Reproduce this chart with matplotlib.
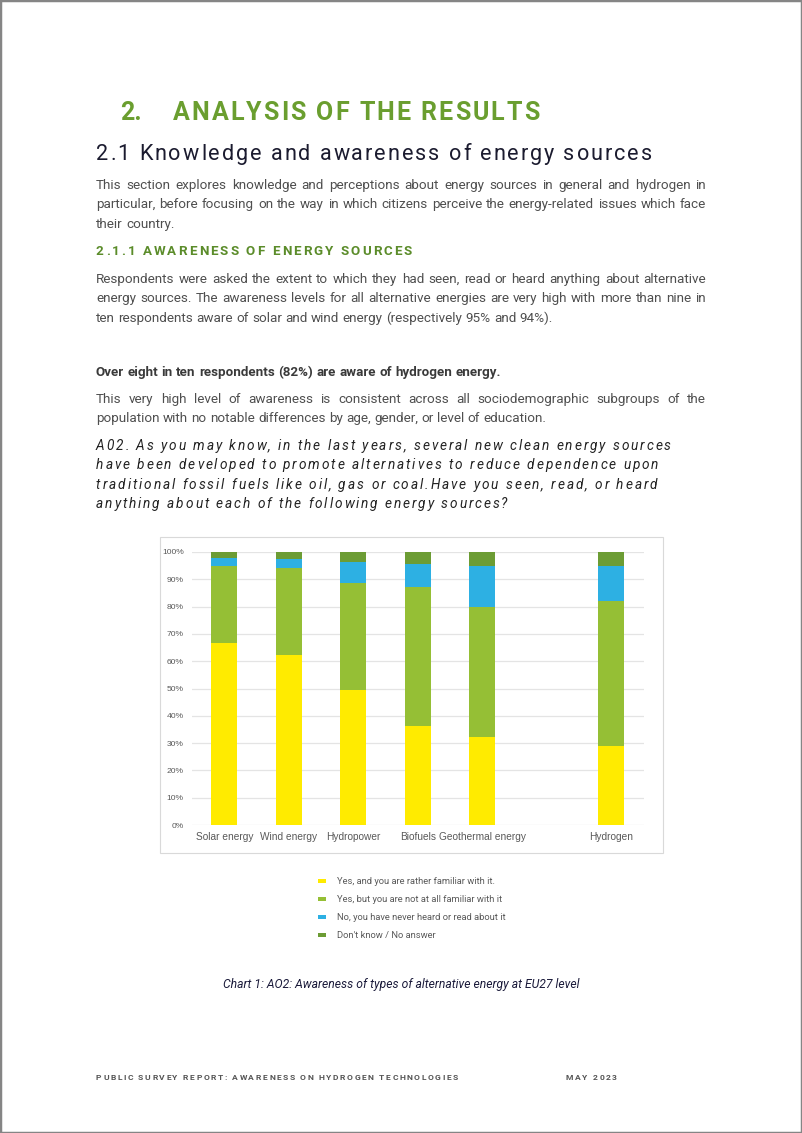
import numpy as np
import matplotlib
matplotlib.use("Agg")
import matplotlib.pyplot as plt
from matplotlib.font_manager import FontProperties
from matplotlib.patches import Rectangle

# ---------------- data ----------------
categories = ["Solar energy", "Wind energy", "Hydropower", "Biofuels",
              "Geothermal energy", "", "Hydrogen"]
yes_familiar = [66.8, 62.2, 49.3, 36.3, 32.3, np.nan, 28.9]
yes_not_familiar = [28.1, 31.8, 39.5, 50.8, 47.6, np.nan, 53.3]
never_heard = [2.9, 3.3, 7.5, 8.4, 15.1, np.nan, 12.7]
dont_know = [2.2, 2.7, 3.7, 4.5, 5.0, np.nan, 5.1]
series_labels = ["Yes, and you are rather familiar with it.",
                 "Yes, but you are not at all familiar with it",
                 "No, you have never heard or read about it",
                 "Don't know / No answer"]
series_colors = ["#FFEB00", "#95BF35", "#2DB0E3", "#6C9C34"]
y_ticks = [0, 10, 20, 30, 40, 50, 60, 70, 80, 90, 100]
y_tick_labels = [f"{t}%" for t in y_ticks]

# ---------------- page texts ----------------
heading_num = "2."
heading_1 = "ANALYSIS OF THE RESULTS"
heading_2 = "2.1 Knowledge and awareness of energy sources"
para_1 = ["This section explores knowledge and perceptions about energy sources in general and hydrogen in",
          "particular, before focusing on the way in which citizens perceive the energy-related issues which face",
          "their country."]
heading_3 = "2.1.1 AWARENESS OF ENERGY SOURCES"
para_2 = ["Respondents were asked the extent to which they had seen, read or heard anything about alternative",
          "energy sources. The awareness levels for all alternative energies are very high with more than nine in",
          "ten respondents aware of solar and wind energy (respectively 95% and 94%)."]
bold_line = "Over eight in ten respondents (82%) are aware of hydrogen energy."
para_3 = ["This very high level of awareness is consistent across all sociodemographic subgroups of the",
          "population with no notable differences by age, gender, or level of education."]
question = ["A02. As you may know, in the last years, several new clean energy sources",
            "have been developed to promote alternatives to reduce dependence upon",
            "traditional fossil fuels like oil, gas or coal.Have you seen, read, or heard",
            "anything about each of the following energy sources?"]
caption = "Chart 1: AO2: Awareness of types of alternative energy at EU27 level"
footer_left = "PUBLIC SURVEY REPORT: AWARENESS ON HYDROGEN TECHNOLOGIES"
footer_right = "MAY 2023"

W, H = 802, 1133
fig = plt.figure(figsize=(W / 100, H / 100), dpi=100)
fig.patch.set_facecolor("white")
R = fig.canvas.get_renderer()


def fx(x):
    return x / W


def fy(y):
    return 1 - y / H


def adv(s, fp):
    a = R.get_text_width_height_descent("|" + s + "|", fp, False)[0]
    b = R.get_text_width_height_descent("||", fp, False)[0]
    return a - b


def spaced(x, y, s, fp, color, spacing=None, target=None):
    advs = [adv(c, fp) for c in s]
    if spacing is None:
        spacing = (target - sum(advs)) / (len(s) - 1)
    xc = x
    for c, a in zip(s, advs):
        if c != " ":
            fig.text(fx(xc), fy(y), c, fontproperties=fp, color=color,
                     ha="left", va="baseline")
        xc += a + spacing
    return spacing


def justified(x, y, line, fp, color, width, justify=True):
    words = line.split(" ")
    ws = [adv(w, fp) for w in words]
    if justify and len(words) > 1:
        gap = (width - sum(ws)) / (len(words) - 1)
    else:
        gap = adv(" ", fp)
    xc = x
    for w, wd in zip(words, ws):
        fig.text(fx(xc), fy(y), w, fontproperties=fp, color=color,
                 ha="left", va="baseline")
        xc += wd + gap


def paragraph(lines, y0, fp, color, lh=19.3, x=96, width=610):
    for i, ln in enumerate(lines):
        justified(x, y0 + i * lh, ln, fp, color, width,
                  justify=(i < len(lines) - 1))


# page border
fig.patches.append(Rectangle((0, 0), 1, 1, transform=fig.transFigure,
                             fill=False, edgecolor="#858585", lw=2.5))

green_h = "#6A9E2F"
green_h3 = "#5B8C2A"
body_c = "#4F4F4F"

fp_h1 = FontProperties(family="Roboto", weight="bold", size=18.0)
fig.text(fx(120), fy(120), heading_num, fontproperties=fp_h1, color=green_h,
         ha="left", va="baseline")
spaced(173, 120, heading_1, fp_h1, green_h, target=366)

fp_h2 = FontProperties(family="Roboto", size=15.6)
spaced(96, 160, heading_2, fp_h2, "#1B1B2F", target=556)

fp_body = FontProperties(family="Roboto", size=9.7)
fp_bold = FontProperties(family="Roboto", weight="bold", size=9.6)
paragraph(para_1, 189, fp_body, body_c)

fp_h3 = FontProperties(family="Roboto", weight="bold", size=9.6)
spaced(96, 255, heading_3, fp_h3, green_h3, target=316)

paragraph(para_2, 283, fp_body, body_c)
justified(96, 376, bold_line, fp_bold, "#3A3A3A", 610, justify=False)
paragraph(para_3, 403, fp_body, body_c)

fp_q = FontProperties(family="Roboto", style="italic", size=9.8)
sp = spaced(96, 450, question[0], fp_q, "#222222", target=575)
for i, ln in enumerate(question[1:]):
    spaced(96, 450 + (i + 1) * 19.4, ln, fp_q, "#222222", spacing=sp)

# ---------------- chart ----------------
fig.patches.append(Rectangle((fx(160), fy(853)), (663 - 160) / W, (853 - 537) / H,
                             transform=fig.transFigure, fill=False,
                             edgecolor="#D9D9D9", lw=0.8))
ax = fig.add_axes([fx(192), fy(825), (643.5 - 192) / W, (825 - 552) / H])
x = np.arange(len(categories))
bottom = np.zeros(len(categories))
for vals, col in zip([yes_familiar, yes_not_familiar, never_heard, dont_know],
                     series_colors):
    v = np.array(vals, dtype=float)
    ax.bar(x, v, 0.40, bottom=bottom, color=col, zorder=3)
    bottom = bottom + np.nan_to_num(v)
ax.set_xlim(-0.5, len(categories) - 0.5)
ax.set_ylim(0, 100)
ax.set_yticks(y_ticks)
ax.set_yticklabels(y_tick_labels)
ax.set_xticks(x)
ax.set_xticklabels(categories)
for s in ax.spines.values():
    s.set_visible(False)
ax.grid(axis="y", color="#E4E4E4", lw=0.9, zorder=0)
ax.tick_params(length=0, colors="#595959")
ax.tick_params(axis="y", labelsize=6.1, pad=6)
ax.tick_params(axis="x", labelsize=7.3, pad=5)
for lab in ax.get_xticklabels() + ax.get_yticklabels():
    lab.set_family("Liberation Sans")

# legend
fp_leg = FontProperties(family="Roboto", size=6.75)
for i, (lab, col) in enumerate(zip(series_labels, series_colors)):
    yc = 881 + i * 18
    fig.patches.append(Rectangle((fx(318), fy(yc + 1.8)), 8 / W, 3.6 / H,
                                 transform=fig.transFigure, color=col, lw=0))
    fig.text(fx(337), fy(yc), lab, fontproperties=fp_leg, color="#595959",
             ha="left", va="center")

fp_cap = FontProperties(family="Roboto", style="italic", size=8.7)
fig.text(fx(401), fy(988), caption, fontproperties=fp_cap, color="#1A1A3A",
         ha="center", va="baseline")

fp_foot = FontProperties(family="Roboto", weight="bold", size=6.1)
spf = spaced(96, 1080, footer_left, fp_foot, "#555555", target=362)
spaced(566, 1080, footer_right, fp_foot, "#555555", spacing=spf)

fig.savefig("out.png", dpi=100)
